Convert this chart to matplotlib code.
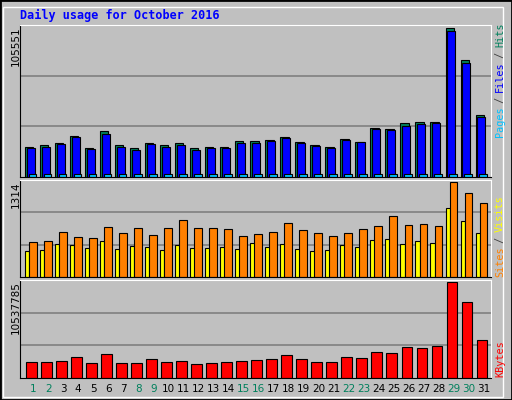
import matplotlib
matplotlib.use("Agg")
import matplotlib.pyplot as plt
from matplotlib.patches import Rectangle
import numpy as np

days = list(range(1, 32))
weekend = {1, 2, 8, 9, 15, 16, 22, 23, 29, 30}
hits = [21450, 22640, 24070, 29310, 20490, 32650, 22640, 20490, 24070, 22640, 24070, 20490,
        21450, 21450, 25500, 25500, 26210, 28600, 24780, 22640, 21450, 26930, 24780, 35030,
        34080, 38370, 39080, 39080, 105551, 82690, 44090]
files = [20490, 21450, 23360, 28360, 19780, 30500, 21450, 19060, 23360, 21450, 22640, 19060,
         20490, 20490, 24070, 24070, 25500, 27640, 24070, 21930, 20490, 26210, 24780, 34080,
         33370, 36220, 37650, 38370, 103400, 80550, 42670]
pages = [2100] * 31
visits = [362, 372, 457, 443, 400, 500, 386, 429, 414, 372, 443, 400, 400, 414, 386, 471, 414,
          457, 386, 357, 372, 443, 414, 514, 528, 457, 500, 471, 952, 767, 614]
sites = [486, 500, 628, 557, 543, 685, 614, 671, 585, 671, 785, 671, 671, 657, 571, 600, 628,
         742, 643, 614, 571, 614, 657, 700, 842, 714, 728, 700, 1314, 1157, 1028]
kbytes = [1737000, 1737000, 1853000, 2316000, 1621000, 2663000, 1621000, 1621000, 2084000,
          1737000, 1853000, 1505000, 1621000, 1737000, 1853000, 1968000, 2084000, 2547000,
          2084000, 1737000, 1737000, 2316000, 2200000, 2895000, 2779000, 3358000, 3242000,
          3474000, 10537785, 8370000, 4169000]

W, H = 512, 400
SLOT = 15.02  # pixels per day
AX_W = 471
XMAX = AX_W / SLOT

fig = plt.figure(figsize=(W / 100, H / 100), dpi=100)
fig.patch.set_facecolor("#C0C0C0")
fig.add_artist(Rectangle((0, 0), 1, 1, transform=fig.transFigure, fill=False, ec="black", lw=2))
fig.add_artist(Rectangle((3 / W, 3 / H), (W - 12) / W, (H - 10) / H, transform=fig.transFigure,
                         fill=False, ec="white", lw=1))

def ax_px(x0, y0, x1, y1):
    return fig.add_axes([x0 / W, 1 - y1 / H, (x1 - x0) / W, (y1 - y0) / H])

def style(ax, vmax):
    ax.set_facecolor("#C0C0C0")
    ax.set_xlim(0, XMAX)
    ax.set_ylim(0, vmax * 1.02)
    ax.set_xticks([]); ax.set_yticks([])
    for s in ["left", "bottom"]:
        ax.spines[s].set_color("black")
    for s in ["top", "right"]:
        ax.spines[s].set_color("white")
    for f in (1 / 3, 2 / 3):
        ax.axhline(vmax * 1.02 * f, color="#808080", lw=1.2, zorder=0)

x = np.arange(31)
ax1 = ax_px(20, 25, 20 + AX_W, 177)
style(ax1, max(hits))
ax1.bar(x + 0.33, hits, width=0.55, align="edge", color="#00805C", ec="black", lw=0.8)
ax1.bar(x + 0.44, files, width=0.53, align="edge", color="#0000FF", ec="black", lw=0.8)
ax1.bar(x + 0.59, pages, width=0.5, align="edge", color="#00C0FF", ec="black", lw=0.8)

ax2 = ax_px(20, 180, 20 + AX_W, 277)
style(ax2, max(sites))
ax2.bar(x + 0.33, visits, width=0.29, align="edge", color="#FFFF00", ec="black", lw=0.8)
ax2.bar(x + 0.6, sites, width=0.5, align="edge", color="#FF8000", ec="black", lw=0.8)

ax3 = ax_px(20, 280, 20 + AX_W, 378)
style(ax3, max(kbytes))
ax3.bar(x + 0.4, kbytes, width=0.7, align="edge", color="#FF0000", ec="black", lw=0.8)

fig.text(20 / W, 1 - 15 / H, "Daily usage for October 2016", color="#0000FF", fontsize=8.5,
         family="DejaVu Sans Mono", weight="bold", va="center")

for ytop, val in [(26, max(hits)), (181, max(sites)), (281, max(kbytes))]:
    fig.text(16 / W, 1 - ytop / H, str(val), rotation=90, fontsize=7.5, ha="center", va="top")

def vlabel(ybottom, parts):
    y = ybottom
    cw = 5.6
    for txt, col in parts:
        fig.text(500 / W, 1 - y / H, txt, rotation=90, color=col, fontsize=7.3,
                 family="DejaVu Sans Mono", ha="center", va="bottom")
        y -= cw * len(txt)

vlabel(137, [("Pages", "#00C0FF"), (" / ", "#404040"), ("Files", "#0000FF"),
             (" / ", "#404040"), ("Hits", "#00805C")])
vlabel(277, [("Sites", "#FF8000"), (" / ", "#404040"), ("Visits", "#FFFF00")])
vlabel(377, [("KBytes", "#FF0000")])

for i, d in enumerate(days):
    px = 20 + (i + 0.87) * SLOT
    fig.text(px / W, 1 - 389 / H, str(d), ha="center", va="center", fontsize=7.5,
             color="#00805C" if d in weekend else "black")

fig.savefig("out.png", dpi=100, facecolor=fig.get_facecolor())
